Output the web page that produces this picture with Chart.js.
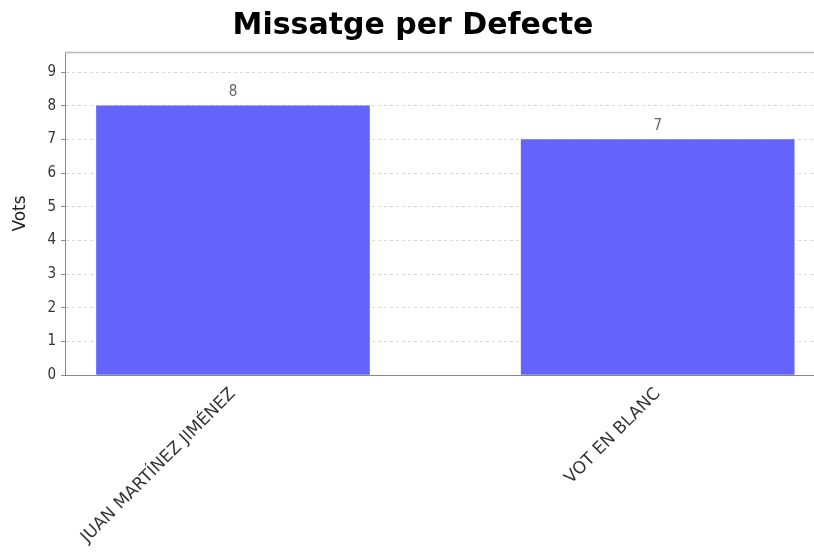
<!DOCTYPE html>
<html>
<head>
<meta charset="utf-8">
<script src="https://cdn.jsdelivr.net/npm/chart.js@4"></script>
<style>
html,body{margin:0;padding:0;background:#fff;}
#wrap{width:814px;height:554px;}
</style>
</head>
<body>
<div id="wrap"><canvas id="c" width="814" height="554"></canvas></div>
<script>
const chartTitle = "Missatge per Defecte";
const categories = ["JUAN MARTÍNEZ JIMÉNEZ", "VOT EN BLANC"];
const votes = [8, 7];
const yTicks = [0, 1, 2, 3, 4, 5, 6, 7, 8, 9];

const points = categories.map((c, i) => ({x: i, y: votes[i]}));

const valueLabels = {
  id: 'valueLabels',
  afterDatasetsDraw(chart) {
    const ctx = chart.ctx;
    const meta = chart.getDatasetMeta(0);
    ctx.save();
    ctx.font = '15px "DejaVu Sans Condensed", "DejaVu Sans", sans-serif';
    ctx.fillStyle = '#666';
    ctx.textAlign = 'center';
    ctx.textBaseline = 'bottom';
    meta.data.forEach((bar, i) => {
      ctx.fillText(String(votes[i]), bar.x, bar.y - 6);
    });
    ctx.restore();
  }
};
const frame = {
  id: 'frame',
  beforeDatasetsDraw(chart) {
    const a = chart.chartArea, ctx = chart.ctx;
    ctx.save();
    ctx.strokeStyle = '#b8b8b8';
    ctx.lineWidth = 1.5;
    ctx.beginPath();
    ctx.moveTo(a.left, a.top + 0.5);
    ctx.lineTo(a.right, a.top + 0.5);
    ctx.stroke();
    ctx.restore();
  },
  afterDraw(chart) {
    const ctx = chart.ctx;
    ctx.save();
    ctx.font = 'bold 30px "DejaVu Sans", sans-serif';
    ctx.fillStyle = '#000';
    ctx.textAlign = 'center';
    ctx.textBaseline = 'alphabetic';
    ctx.fillText(chartTitle, 413, 34);
    ctx.restore();
  }
};

new Chart(document.getElementById('c'), {
  type: 'bar',
  data: {
    datasets: [{
      data: points,
      backgroundColor: '#6464fa',
      borderWidth: 0,
      barThickness: 273
    }]
  },
  plugins: [valueLabels, frame],
  options: {
    responsive: false,
    animation: false,
    layout: {padding: {left: 10, right: 0, top: 52, bottom: 0}},
    plugins: {
      legend: {display: false},
      tooltip: {enabled: false},
      title: {display: false}
    },
    scales: {
      x: {
        type: 'linear',
        offset: false,
        min: -0.3955,
        max: 1.368,
        afterBuildTicks(scale) { scale.ticks = categories.map((c, i) => ({value: i})); },
        afterFit(scale) { scale.height = 179; },
        grid: {display: false, drawTicks: false},
        border: {display: true, color: '#888', width: 1},
        ticks: {
          autoSkip: false,
          maxRotation: 45,
          minRotation: 45,
          padding: 9,
          color: '#333',
          font: {family: '"DejaVu Sans", sans-serif', size: 17},
          callback: (v) => categories[v] !== undefined ? categories[v] : ''
        }
      },
      y: {
        min: 0,
        max: 9.6,
        afterBuildTicks(scale) { scale.ticks = yTicks.map(v => ({value: v})); },
        afterFit(scale) { scale.width = 55; },
        grid: {
          color: '#d8d8d8',
          lineWidth: 1,
          tickLength: 4,
          tickColor: '#888',
          tickBorderDash: []
        },
        border: {display: true, color: '#888', width: 1, dash: [3, 3]},
        title: {
          display: true,
          text: 'Vots',
          color: '#222',
          font: {family: '"DejaVu Sans", sans-serif', size: 17},
          padding: {top: 0, bottom: 6}
        },
        ticks: {
          color: '#333',
          padding: 5,
          font: {family: '"DejaVu Sans Condensed", "DejaVu Sans", sans-serif', size: 15}
        }
      }
    }
  }
});
</script>
</body>
</html>
